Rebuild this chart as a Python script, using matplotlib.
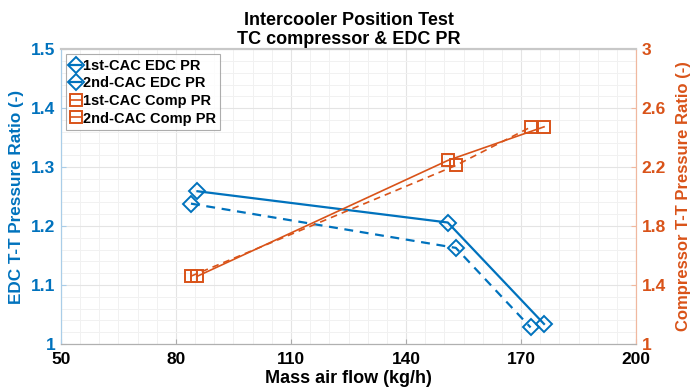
import matplotlib
matplotlib.use("Agg")
import matplotlib.pyplot as plt
from matplotlib.ticker import MultipleLocator

# mass air flow (kg/h) and pressure ratios per intercooler position
flow_1st = [85.6, 150.9, 176.0]
flow_2nd = [83.9, 153.0, 172.5]
edc_pr_1st = [1.259, 1.206, 1.034]
edc_pr_2nd = [1.238, 1.163, 1.028]
comp_pr_1st = [1.46, 2.245, 2.473]
comp_pr_2nd = [1.46, 2.211, 2.471]

x_ticks = [50, 80, 110, 140, 170, 200]
edc_ticks = [1, 1.1, 1.2, 1.3, 1.4, 1.5]
comp_ticks = [1, 1.4, 1.8, 2.2, 2.6, 3]

BLUE = "#0072BD"
ORANGE = "#D95319"

plt.rcParams["font.family"] = ["Liberation Sans", "DejaVu Sans"]
plt.rcParams["font.weight"] = "bold"

fig = plt.figure(figsize=(6.97, 3.9), dpi=100)
ax = fig.add_axes([0.0875, 0.118, 0.825, 0.756])
ax2 = ax.twinx()

lw = 1.6
mk = dict(markersize=9, markerfacecolor="none", markeredgewidth=1.4)
h1, = ax.plot(flow_1st, edc_pr_1st, "-", marker="D", color=BLUE, lw=lw,
              label="1st-CAC EDC PR", **dict(mk, markersize=8))
h2, = ax.plot(flow_2nd, edc_pr_2nd, "--", marker="D", color=BLUE, lw=lw,
              label="2nd-CAC EDC PR", dashes=(4, 3), **dict(mk, markersize=8))
h3, = ax2.plot(flow_1st, comp_pr_1st, "-", marker="s", color=ORANGE, lw=1.2,
               label="1st-CAC Comp PR", **mk)
h4, = ax2.plot(flow_2nd, comp_pr_2nd, "--", marker="s", color=ORANGE, lw=1.2,
               label="2nd-CAC Comp PR", dashes=(4, 3), **mk)

ax.set_xlim(50, 200)
ax.set_ylim(1, 1.5)
ax2.set_ylim(1, 3)
ax.set_xticks(x_ticks)
ax.set_yticks(edc_ticks)
ax.set_yticklabels([f"{v:g}" for v in edc_ticks])
ax2.set_yticks(comp_ticks)
ax2.set_yticklabels([f"{v:g}" for v in comp_ticks])
ax.xaxis.set_minor_locator(MultipleLocator(5))
ax.yaxis.set_minor_locator(MultipleLocator(0.02))
ax2.yaxis.set_minor_locator(MultipleLocator(0.08))

ax.grid(True, which="major", color="#e4e4e4", lw=0.8)
ax.grid(True, which="minor", color="#f1f1f1", lw=0.7)
ax.set_axisbelow(True)

ax.tick_params(axis="x", which="both", direction="in", labelsize=12.5,
               color="#aaaaaa", pad=6)
ax.tick_params(axis="x", which="minor", length=0)
ax.tick_params(axis="y", which="both", direction="in", labelsize=12.5,
               colors=BLUE, pad=4)
ax.tick_params(axis="y", which="minor", length=0)
ax2.tick_params(axis="y", which="both", direction="in", labelsize=12.5,
                colors=ORANGE, pad=4)
ax2.tick_params(axis="y", which="minor", length=0)
ax.tick_params(axis="y", which="major", color="#a9cde8")
ax2.tick_params(axis="y", which="major", color="#f0b89f")

for a in (ax, ax2):
    a.spines["top"].set_color("#c8c8c8")
    a.spines["bottom"].set_color("#b0b0b0")
    a.spines["left"].set_color("#a9cde8")
    a.spines["right"].set_color("#f0b89f")
    a.spines["top"].set_linewidth(1.5)

ax.set_xlabel("Mass air flow (kg/h)", fontsize=13, fontweight="bold",
              labelpad=2)
ax.set_ylabel("EDC T-T Pressure Ratio (-)", fontsize=12.3, fontweight="bold",
              color=BLUE, labelpad=5)
ax2.set_ylabel("Compressor T-T Pressure Ratio (-)", fontsize=12,
               fontweight="bold", color=ORANGE, labelpad=7)
ax.set_title("Intercooler Position Test\nTC compressor & EDC PR",
             fontsize=13, fontweight="bold", linespacing=1.1, pad=4)

leg = ax2.legend(handles=[h1, h2, h3, h4], loc="upper left",
                 bbox_to_anchor=(0.0, 1.0), fontsize=10.5, frameon=True,
                 fancybox=False, edgecolor="#999999", handlelength=0.7,
                 handletextpad=0.15, borderpad=0.3, labelspacing=0.25,
                 borderaxespad=0.35)
leg.get_frame().set_linewidth(0.8)
for h in leg.legend_handles:
    h.set_linestyle("-")

fig.savefig("out.png", dpi=100)
